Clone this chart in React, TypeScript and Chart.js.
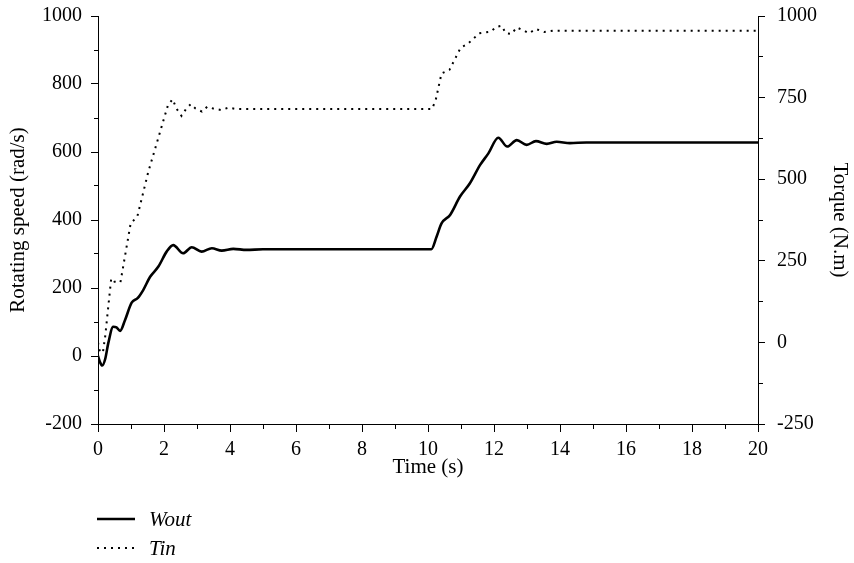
import React, { useEffect, useRef } from 'react';
import { Chart, registerables } from 'chart.js';

Chart.register(...registerables);

// Wout: rotating speed (rad/s), left axis
const woutTime = [0, 0.06, 0.13, 0.22, 0.31, 0.46, 0.56, 0.67, 0.82, 1.02, 1.2, 1.37, 1.58, 1.83, 2.08, 2.28, 2.58, 2.84, 3.14, 3.45, 3.75, 4.1, 4.5, 5.0, 10.1, 10.26, 10.41, 10.67, 10.97, 11.27, 11.58, 11.83, 12.13, 12.4, 12.69, 12.99, 13.27, 13.6, 13.9, 14.3, 14.8, 20];
const woutValues = [0, -18, -28, -8, 37, 86, 84, 74, 106, 157, 170, 194, 233, 263, 307, 326, 302, 320, 307, 317, 310, 315, 312, 314, 314, 351, 390, 415, 469, 508, 562, 596, 642, 616, 635, 621, 632, 624, 630, 626, 628, 628];

// Tin: torque (N.m), right axis
const tinTime = [0, 0.06, 0.15, 0.22, 0.4, 0.5, 0.68, 0.99, 1.19, 1.52, 2.12, 2.26, 2.38, 2.53, 2.66, 2.81, 2.95, 3.15, 3.31, 3.51, 3.73, 3.95, 4.2, 10.12, 10.23, 10.41, 10.65, 10.99, 11.2, 11.55, 11.9, 12.08, 12.23, 12.36, 12.53, 12.69, 12.87, 13.06, 13.27, 13.52, 13.8, 20];
const tinValues = [0, -30, -30, 20, 196, 186, 184, 365, 385, 521, 727, 745, 716, 694, 714, 730, 717, 707, 722, 716, 712, 719, 715, 715, 741, 824, 835, 903, 914, 947, 952, 967, 970, 947, 945, 965, 957, 947, 960, 951, 955, 955];

const seriesLabels = ['Wout', 'Tin'];
const xLabeledTicks = [0, 2, 4, 6, 8, 10, 12, 14, 16, 18, 20];
const leftLabeledTicks = [-200, 0, 200, 400, 600, 800, 1000];
const rightLabeledTicks = [-250, 0, 250, 500, 750, 1000];

const FONT = "'Liberation Serif', 'DejaVu Serif', serif";

const legendPlugin = {
  id: 'customLegend',
  afterDraw(chart: any) {
    const ctx = chart.ctx as CanvasRenderingContext2D;
    const { left, bottom } = chart.chartArea;
    chart.data.datasets.forEach((ds: any, i: number) => {
      const y = bottom + 95 + i * 29;
      ctx.save();
      ctx.strokeStyle = ds.borderColor;
      ctx.lineWidth = i === 0 ? 2.5 : 2;
      ctx.setLineDash(ds.borderDash || []);
      ctx.beginPath();
      ctx.moveTo(left - 1, y);
      ctx.lineTo(left + 37, y);
      ctx.stroke();
      ctx.setLineDash([]);
      ctx.fillStyle = '#000';
      ctx.font = `italic 21px ${FONT}`;
      ctx.textBaseline = 'alphabetic';
      ctx.textAlign = 'left';
      ctx.fillText(ds.label, left + 51, y + 7);
      ctx.restore();
    });
  },
};

export default function App() {
  const ref = useRef<HTMLCanvasElement>(null);
  useEffect(() => {
    if (!ref.current) return;
    const tickFont = { family: FONT, size: 20 };
    const titleFont = { family: FONT, size: 21 };
    const fitY = (w: number) => (s: any) => {
      s.width = w;
      s.paddingTop = 10;
      s.paddingBottom = 10;
    };
    const chart = new Chart(ref.current, {
      type: 'line',
      data: {
        datasets: [
          {
            label: seriesLabels[0],
            data: woutTime.map((t, i) => ({ x: t, y: woutValues[i] })),
            yAxisID: 'y',
            borderColor: '#000',
            borderWidth: 2.6,
            pointRadius: 0,
            cubicInterpolationMode: 'monotone',
            fill: false,
          },
          {
            label: seriesLabels[1],
            data: tinTime.map((t, i) => ({ x: t, y: tinValues[i] })),
            yAxisID: 'y1',
            borderColor: '#000',
            borderWidth: 2,
            borderDash: [2, 5],
            pointRadius: 0,
            tension: 0,
            fill: false,
          },
        ],
      },
      options: {
        animation: false,
        responsive: false,
        layout: { padding: { top: 16, left: 0, right: 0, bottom: 83 } },
        plugins: { legend: { display: false }, tooltip: { enabled: false } },
        scales: {
          x: {
            type: 'linear',
            min: 0,
            max: 20,
            afterFit: (s: any) => {
              s.height = 56;
              s.paddingLeft = 6;
              s.paddingRight = 12;
            },
            ticks: {
              stepSize: 1,
              autoSkip: false,
              maxRotation: 0,
              padding: 6,
              color: '#000',
              font: tickFont,
              callback: (v: any) => (xLabeledTicks.includes(Number(v)) ? String(v) : ''),
            },
            grid: {
              drawOnChartArea: false,
              tickLength: 8,
              tickColor: '#000',
              tickBorderDash: (c: any) => (xLabeledTicks.includes(c.tick?.value) ? [] : [4, 100]),
            },
            border: { display: true, color: '#000', width: 1 },
            title: { display: true, text: 'Time (s)', color: '#000', font: titleFont, padding: 0 },
          },
          y: {
            type: 'linear',
            position: 'left',
            min: -200,
            max: 1000,
            afterFit: fitY(98),
            ticks: {
              stepSize: 100,
              autoSkip: false,
              padding: 9,
              color: '#000',
              font: tickFont,
              callback: (v: any) => (leftLabeledTicks.includes(Number(v)) ? String(v) : ''),
            },
            grid: {
              drawOnChartArea: false,
              tickLength: 7,
              tickColor: '#000',
              tickBorderDash: (c: any) => (leftLabeledTicks.includes(c.tick?.value) ? [] : [0, 3, 4, 100]),
            },
            border: { display: true, color: '#000', width: 1 },
            title: { display: true, text: 'Rotating speed (rad/s)', color: '#000', font: titleFont, padding: { top: 6, bottom: 0 } },
          },
          y1: {
            type: 'linear',
            position: 'right',
            min: -250,
            max: 1000,
            afterFit: fitY(96),
            ticks: {
              stepSize: 125,
              autoSkip: false,
              padding: 12,
              color: '#000',
              font: tickFont,
              callback: (v: any) => (rightLabeledTicks.includes(Number(v)) ? String(v) : ''),
            },
            grid: {
              drawOnChartArea: false,
              tickLength: 7,
              tickColor: '#000',
              tickBorderDash: (c: any) => (rightLabeledTicks.includes(c.tick?.value) ? [] : [4, 100]),
            },
            border: { display: true, color: '#000', width: 1 },
            title: { display: true, text: 'Torque (N.m)', color: '#000', font: titleFont, padding: { top: 2, bottom: 0 } },
          },
        },
      },
      plugins: [legendPlugin],
    } as any);
    return () => chart.destroy();
  }, []);
  return (
    <div style={{ position: 'absolute', left: 0, top: 0, width: 854, height: 563, background: '#fff' }}>
      <canvas ref={ref} width={854} height={563} />
    </div>
  );
}
